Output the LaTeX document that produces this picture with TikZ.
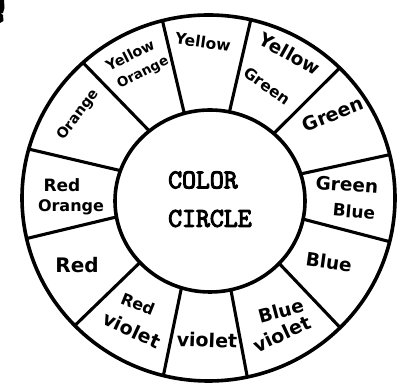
\documentclass[tikz,border=0pt]{standalone}
\usepackage{fontspec}
\usepackage{graphicx}
\usetikzlibrary{calc}
\newfontfamily\hand{DejaVu Sans}
\newfontfamily\tw{Latin Modern Mono}[FakeBold=4]
\tikzset{
  ring/.style={line width=3.6pt},
  spoke/.style={line width=3.1pt},
  hw/.style={font=\hand\bfseries\fontsize{#1}{#1}\selectfont, inner sep=0pt},
  tt/.style={font=\tw\fontsize{27}{27}\selectfont, inner sep=0pt, anchor=west}
}
\begin{document}
\begin{tikzpicture}[x=1pt,y=1pt]
\useasboundingbox (0,0) rectangle (399,385);
% scan mark
\fill (0,385) -- (4,385) -- (4.5,377) -- (3,372) -- (0,371) -- cycle;
\fill (0,372) -- (3,370) -- (3.5,364) -- (0,362) -- cycle;
% circles
\coordinate (oc) at (208.5,187);
\coordinate (ic) at (210,184);
\draw[ring] (oc) ellipse [x radius=186.5, y radius=183];
\draw[ring] (ic) ellipse [x radius=95, y radius=91];
% spokes (outer angle, inner angle)
\foreach \a/\b in {104.3/105.7, 76.9/78.2, 45.3/47.8, 13.7/17.3, -13.8/-11.5, -45.1/-43.3,
                   -78/-77.3, -104/-107.5, -135.8/-137.5, -167.2/-169.9, 164.5/160.5, 132.3/129.7}{
  \draw[spoke] ($(oc)+(\a:186.5 and 183)$) -- ($(ic)+(\b:95 and 91)$);
}
% centre text
\node[tt] (color) at (168,205) {COLOR};
\node[tt] (circle) at (168,166.5) {CIRCLE};
% labels
\node[hw=15.5, rotate=-8] (y) at (203,343) {Yellow};
\node[hw=14.5, rotate=27] (yo1) at (130,330) {Yellow};
\node[hw=13.5, rotate=27] (yo2) at (143,312) {Orange};
\node[hw=14.3, rotate=53] (o) at (78,270) {Orange};
\node[hw=17] (ro1) at (62,199.5) {Red};
\node[hw=16] (ro2) at (71,177.5) {Orange};
\node[hw=20] (r) at (77,120) {Red};
\node[hw=16, rotate=-22] (rv1) at (138,81) {Red};
\node[hw=19, rotate=-25] (rv2) at (132,55) {violet};
\node[hw=19, rotate=-2] (v) at (207,45) {violet};
\node[hw=18.5, rotate=15] (bv1) at (281,74) {Blue};
\node[hw=19, rotate=25] (bv2) at (282,51) {violet};
\node[hw=18.5, rotate=-8] (b) at (329,123) {Blue};
\node[hw=18.5, rotate=-4] (gb1) at (347,200.5) {Green};
\node[hw=17, rotate=-5] (gb2) at (354,173.5) {Blue};
\node[hw=19, rotate=22] (g) at (333,271) {Green};
\node[hw=18.5, rotate=-29] (yg1) at (290,331) {Yellow};
\node[hw=15.5, rotate=-35] (yg2) at (267,299) {Green};
\end{tikzpicture}
\end{document}
